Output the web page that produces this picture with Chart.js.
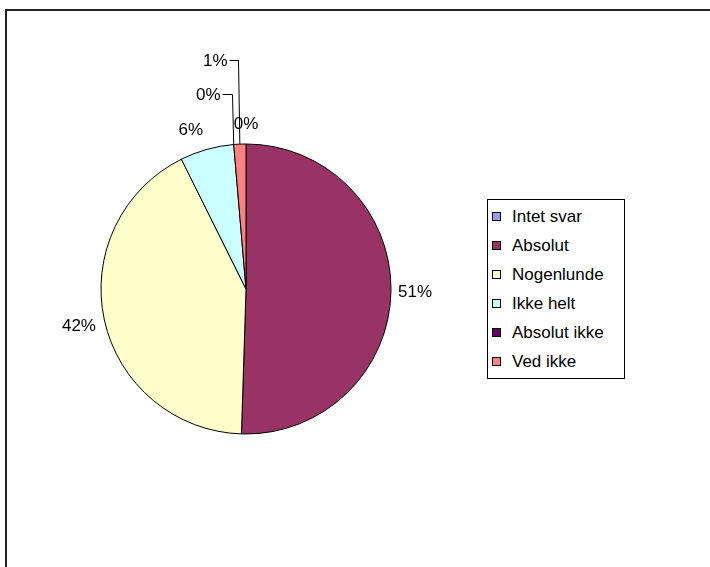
<!DOCTYPE html>
<html>
<head>
<meta charset="utf-8">
<script src="https://cdn.jsdelivr.net/npm/chart.js"></script>
<style>
html,body{margin:0;padding:0;width:710px;height:567px;overflow:hidden;background:#fff;}
#frame{position:absolute;left:5px;top:9px;width:800px;height:700px;border-left:2px solid #222;border-top:2px solid #222;}
#c{position:absolute;left:0;top:0;}
#legend{position:absolute;left:487px;top:199px;width:136px;height:178px;border:1px solid #000;background:#fff;font-family:"Liberation Sans",Arial,sans-serif;font-size:17px;color:#000;}
.item{position:absolute;left:0;height:29px;line-height:29px;white-space:nowrap;width:136px;}
.sw{position:absolute;left:4px;top:10px;width:7px;height:7px;border:1px solid #000;}
.tx{position:absolute;left:24px;top:0;}
</style>
</head>
<body>
<div id="frame"></div>
<canvas id="c" width="710" height="567"></canvas>
<div id="legend"></div>
<script>
const categories = ["Intet svar", "Absolut", "Nogenlunde", "Ikke helt", "Absolut ikke", "Ved ikke"];
const values = [0, 50.5, 42.15, 6.0, 0, 1.35];
const colors = ["#9999FF", "#993366", "#FFFFCC", "#CCFFFF", "#660066", "#FF8080"];

// legend (HTML text)
const leg = document.getElementById('legend');
categories.forEach((c, i) => {
  const it = document.createElement('div');
  it.className = 'item';
  it.style.top = (1.5 + 29 * i) + 'px';
  const sw = document.createElement('div');
  sw.className = 'sw';
  sw.style.background = colors[i];
  const tx = document.createElement('span');
  tx.className = 'tx';
  tx.textContent = c;
  it.appendChild(sw); it.appendChild(tx);
  leg.appendChild(it);
});

const labelPlugin = {
  id: 'pieLabels',
  afterDatasetsDraw(chart, args, opts) {
    const ctx = chart.ctx;
    const meta = chart.getDatasetMeta(0);
    const data = chart.data.datasets[0].data;
    const total = data.reduce((a, b) => a + b, 0);
    ctx.save();
    ctx.font = opts.font;
    ctx.fillStyle = '#000';
    ctx.strokeStyle = '#000';
    ctx.lineWidth = 1;
    meta.data.forEach((arc, i) => {
      const p = arc.getProps(['x', 'y', 'startAngle', 'endAngle', 'outerRadius'], true);
      const txt = Math.round(data[i] / total * 100) + '%';
      const mid = (p.startAngle + p.endAngle) / 2;
      const L = opts.leaders[i];
      if (L) {
        const ex = p.x + Math.cos(mid) * p.outerRadius;
        const ey = p.y + Math.sin(mid) * p.outerRadius;
        const kx = Math.round(ex + L.shift) + 0.5, ky = Math.round(ey - L.rise) + 0.5;
        ctx.beginPath();
        ctx.moveTo(ex, ey);
        ctx.lineTo(kx, ky);
        ctx.lineTo(kx - L.run, ky);
        ctx.stroke();
        ctx.textAlign = 'right';
        ctx.textBaseline = 'middle';
        ctx.fillText(txt, kx - L.run - 2, ky + 1);
      } else {
        const a = mid + opts.nudge[i] * Math.PI / 180;
        const d = opts.dist[i];
        ctx.textAlign = 'center';
        ctx.textBaseline = 'middle';
        ctx.fillText(txt, p.x + Math.cos(a) * d, p.y + Math.sin(a) * d + 1);
      }
    });
    ctx.restore();
  }
};

new Chart(document.getElementById('c'), {
  type: 'pie',
  data: {
    labels: categories,
    datasets: [{
      data: values,
      backgroundColor: colors,
      borderColor: '#000',
      borderWidth: 1
    }]
  },
  options: {
    responsive: false,
    animation: false,
    layout: { padding: { left: 100.5, right: 318.5, top: 143.5, bottom: 132.5 } },
    plugins: {
      legend: { display: false },
      tooltip: { enabled: false },
      pieLabels: {
        font: '17px "Liberation Sans", Arial, sans-serif',
        dist: [166, 169, 171, 169, 0, 0],
        nudge: [0, 0, 0, -3.4, 0, 0],
        leaders: [null, null, null, null, { shift: -2, rise: 50.5, run: 10 }, { shift: -2, rise: 84, run: 9 }]
      }
    }
  },
  plugins: [labelPlugin]
});
</script>
</body>
</html>
